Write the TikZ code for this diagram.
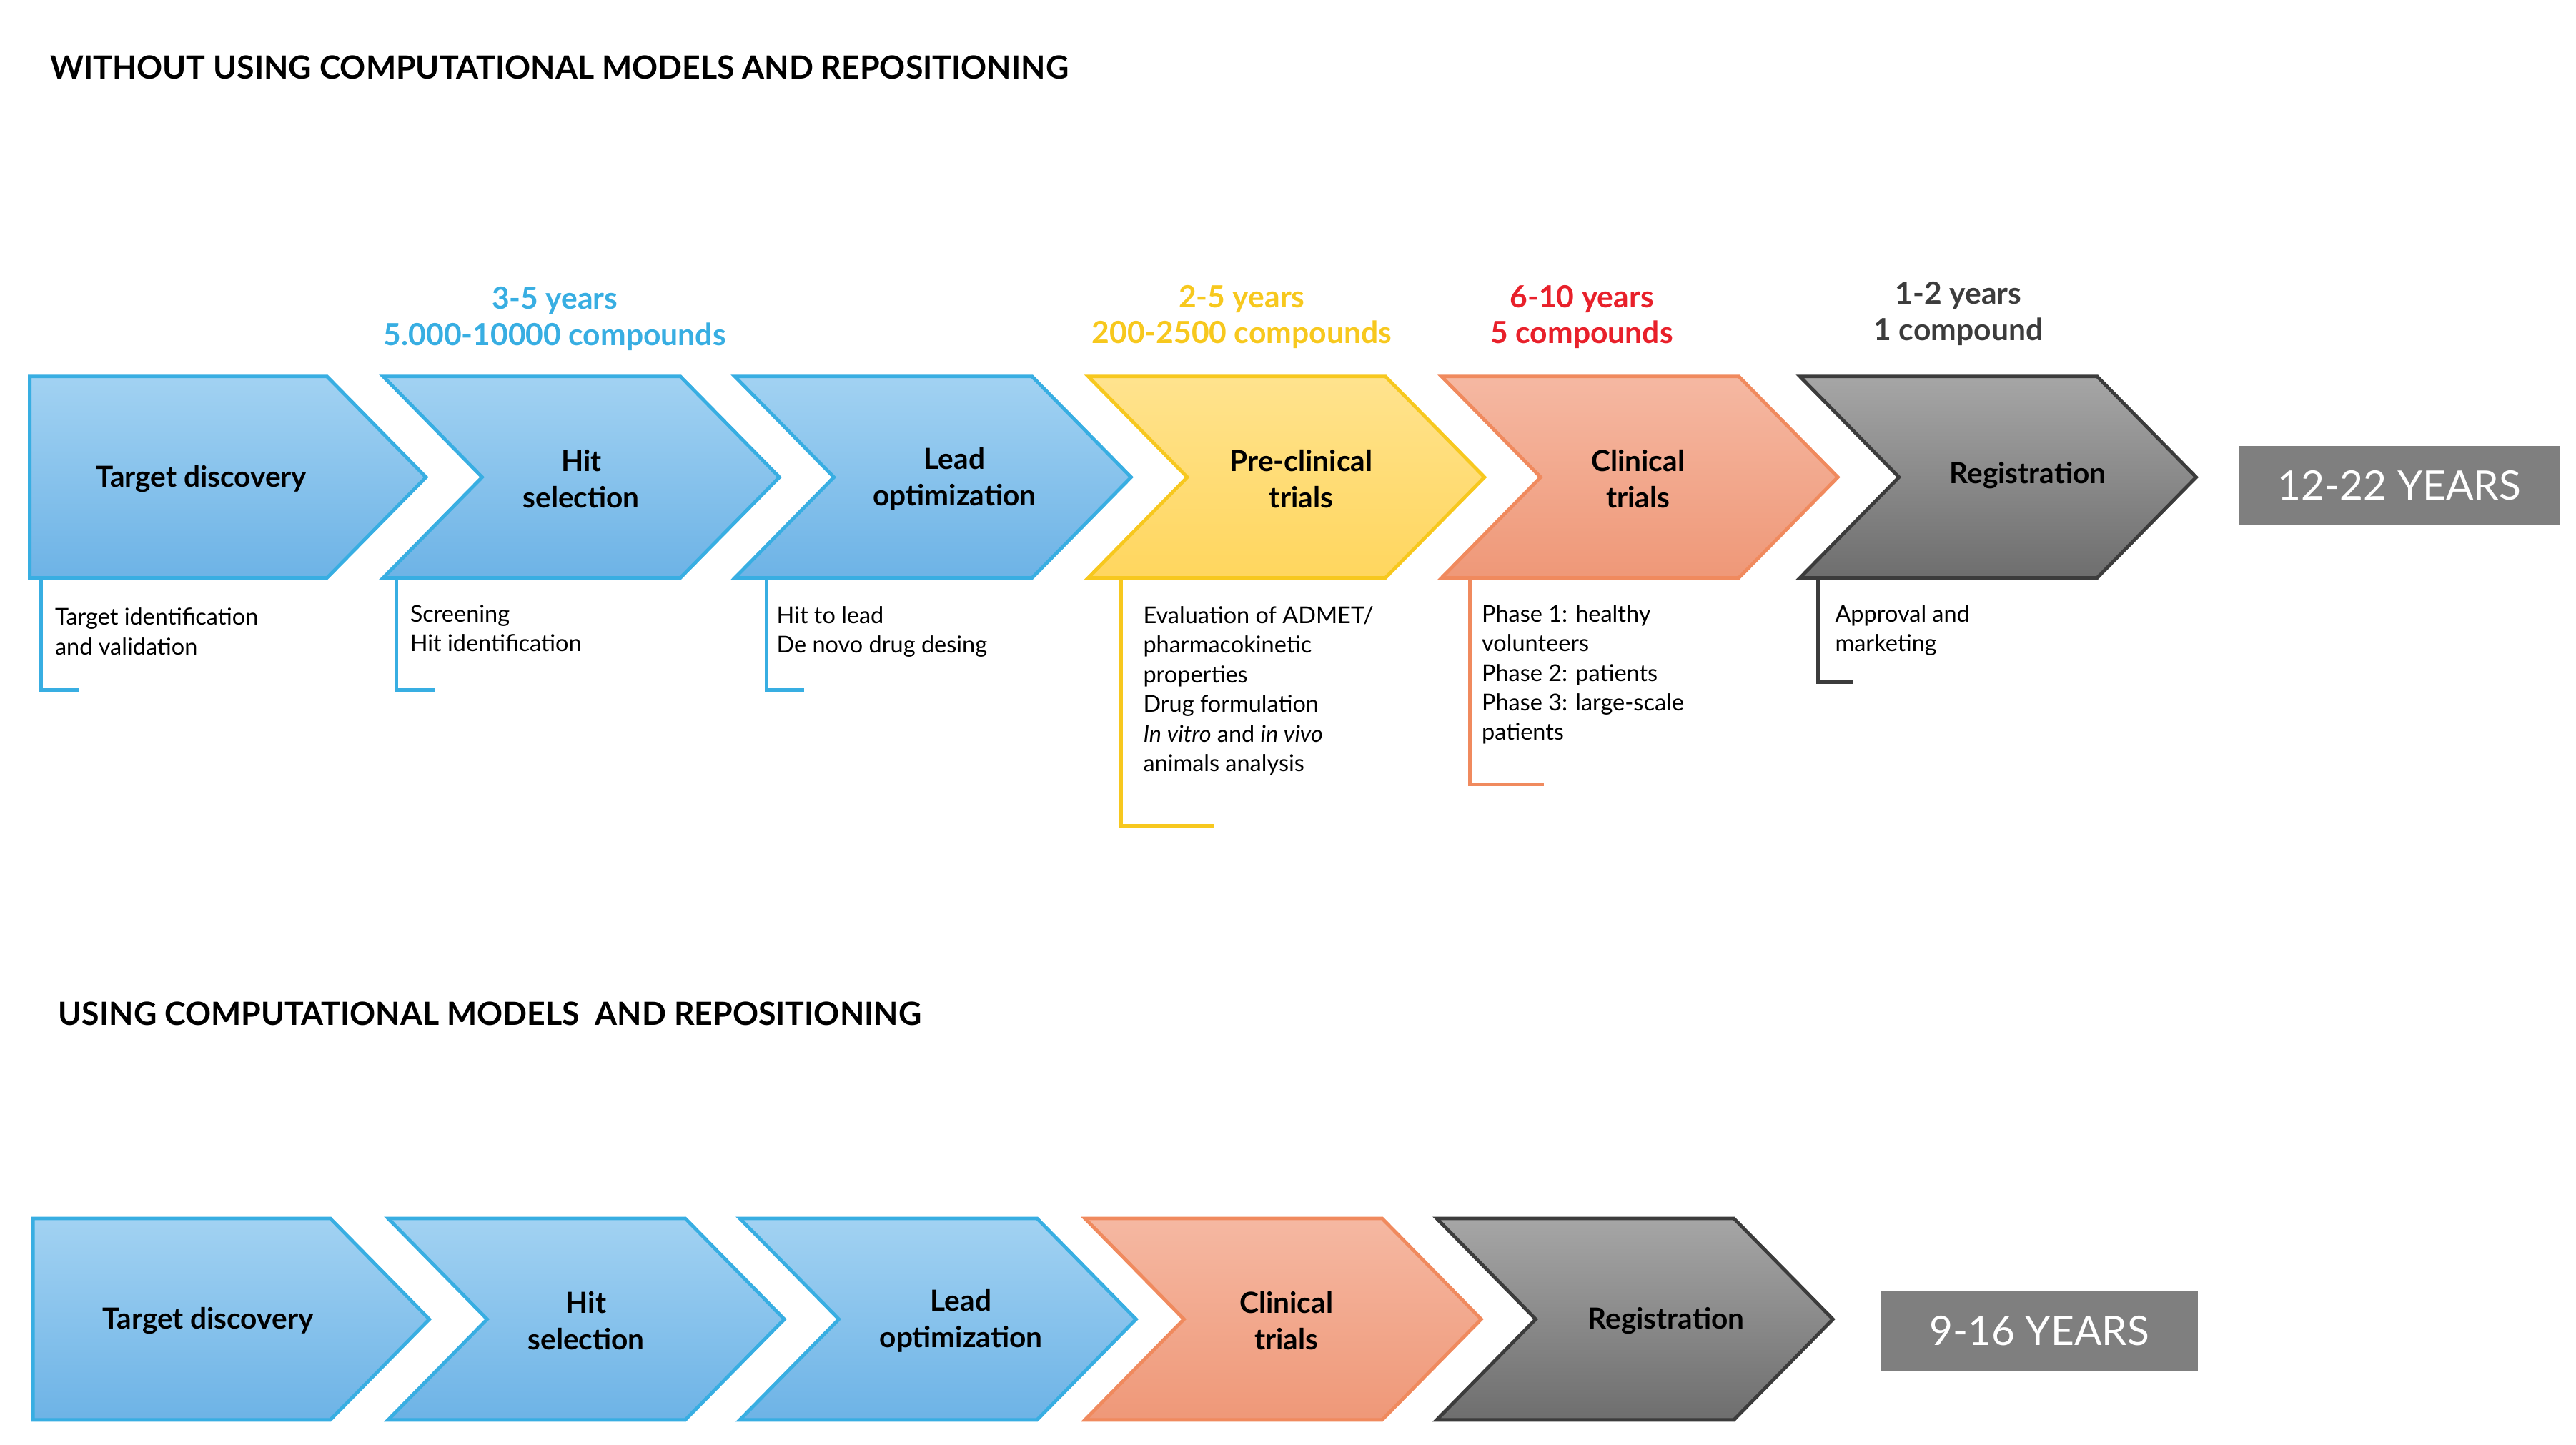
\documentclass[tikz,border=0pt]{standalone}
\usepackage{fontspec}
\setmainfont{Lato}
\usetikzlibrary{calc}

\definecolor{bluetop}{HTML}{A2D2F2}
\definecolor{bluebot}{HTML}{6DB3E6}
\definecolor{blueline}{HTML}{38AEE2}
\definecolor{yeltop}{HTML}{FFE38E}
\definecolor{yelbot}{HTML}{FFD65E}
\definecolor{yelline}{HTML}{F7C81E}
\definecolor{saltop}{HTML}{F5B8A2}
\definecolor{salbot}{HTML}{EF9878}
\definecolor{salline}{HTML}{F08A5E}
\definecolor{graytop}{HTML}{A6A6A6}
\definecolor{graybot}{HTML}{6E6E6E}
\definecolor{grayline}{HTML}{3C3C3C}
\definecolor{redtxt}{HTML}{E8202A}
\definecolor{boxgray}{HTML}{7F7F7F}

% chevron: #1 style, #2 left x, #3 top y, #4 first (1) or not (0)
\newcommand\chev[4]{%
  \ifnum#4=1
    \draw[#1] (#2,-#3) -- ++(180,0) -- ++(60,-61) -- ++(-60,-61) -- ++(-180,0) -- cycle;
  \else
    \draw[#1] (#2,-#3) -- ++(180,0) -- ++(60,-61) -- ++(-60,-61) -- ++(-180,0) -- ++(60,61) -- cycle;
  \fi}

\begin{document}
\begin{tikzpicture}[x=0.02cm, y=0.02cm,
  blue/.style={top color=bluetop, bottom color=bluebot, draw=blueline, line width=1.2pt},
  yel/.style={top color=yeltop, bottom color=yelbot, draw=yelline, line width=1.2pt},
  sal/.style={top color=saltop, bottom color=salbot, draw=salline, line width=1.2pt},
  gry/.style={top color=graytop, bottom color=graybot, draw=grayline, line width=1.2pt},
  stage/.style={font=\bfseries\fontsize{10}{12.5}\selectfont, align=center, text=black},
  note/.style={font=\fontsize{8}{10.2}\selectfont, align=left, anchor=north west, inner sep=0},
  head/.style={font=\bfseries\fontsize{10.5}{12.5}\selectfont, align=center},
  title/.style={font=\bfseries\fontsize{11}{13}\selectfont, anchor=west, inner sep=0},
  total/.style={fill=boxgray, text=white, font=\fontsize{14}{16}\selectfont, inner sep=0},
  brk/.style={line width=1.2pt}]
\useasboundingbox (0,0) rectangle (1560,-875);

\node (t1) [title] at (30,-41) {WITHOUT USING COMPUTATIONAL MODELS AND REPOSITIONING};
\node (t2) [title] at (35,-614) {USING COMPUTATIONAL MODELS\ \ AND REPOSITIONING};

% top row
\chev{blue}{18}{228}{1}
\chev{blue}{232}{228}{0}
\chev{blue}{445}{228}{0}
\chev{yel}{659}{228}{0}
\chev{sal}{873}{228}{0}
\chev{gry}{1090}{228}{0}

\node (td) [stage] at (122,-290) {Target discovery};
\node (hs) [stage] at (352,-290) {Hit\\selection};
\node (lo) [stage] at (578,-290) {Lead\\optimization};
\node (pc) [stage] at (788,-290) {Pre-clinical\\trials};
\node (ct) [stage] at (992,-290) {Clinical\\trials};
\node (rg) [stage] at (1228,-288) {Registration};

\node (y1) [head, text=blueline] at (336,-193) {3-5 years\\5.000-10000 compounds};
\node (y2) [head, text=yelline] at (752,-192) {2-5 years\\200-2500 compounds};
\node (y3) [head, text=redtxt] at (958,-192) {6-10 years\\5 compounds};
\node (y4) [head, text=grayline] at (1186,-190) {1-2 years\\1 compound};

\node (tot1) [total, minimum width=194*0.02cm, minimum height=48*0.02cm] at (1453,-294) {12-22 YEARS};

% notes with brackets
\node (n1) [note] at (33,-368) {Target identification\\and validation};
\node (n2) [note] at (248,-366) {Screening\\Hit identification};
\node (n3) [note] at (470,-367) {Hit to lead\\De novo drug desing};
\node (n4) [note] at (692,-367) {Evaluation of ADMET/\\pharmacokinetic\\properties\\Drug formulation\\\textit{In vitro} and \textit{in vivo}\\animals analysis};
\node (n5) [note] at (897,-366) {Phase 1: healthy\\volunteers\\Phase 2: patients\\Phase 3: large-scale\\patients};
\node (n6) [note] at (1111,-366) {Approval and\\marketing};

\coordinate (b1) at (25,-350);   \draw[brk, blueline] (b1) |- ++(23,-68);
\coordinate (b2) at (240,-350);  \draw[brk, blueline] (b2) |- ++(23,-68);
\coordinate (b3) at (464,-350);  \draw[brk, blueline] (b3) |- ++(23,-68);
\coordinate (b4) at (679,-350);  \draw[brk, yelline] (b4) |- ++(56,-150);
\coordinate (b5) at (890,-350);  \draw[brk, salline] (b5) |- ++(45,-125);
\coordinate (b6) at (1101,-350); \draw[brk, grayline] (b6) |- ++(21,-63);

% bottom row
\chev{blue}{20}{738}{1}
\chev{blue}{235}{738}{0}
\chev{blue}{448}{738}{0}
\chev{sal}{657}{738}{0}
\chev{gry}{870}{738}{0}

\node (td2) [stage] at (126,-800) {Target discovery};
\node (hs2) [stage] at (355,-800) {Hit\\selection};
\node (lo2) [stage] at (582,-800) {Lead\\optimization};
\node (ct2) [stage] at (779,-800) {Clinical\\trials};
\node (rg2) [stage] at (1009,-800) {Registration};

\node (tot2) [total, minimum width=192*0.02cm, minimum height=48*0.02cm] at (1235,-806) {9-16 YEARS};
\end{tikzpicture}
\end{document}
